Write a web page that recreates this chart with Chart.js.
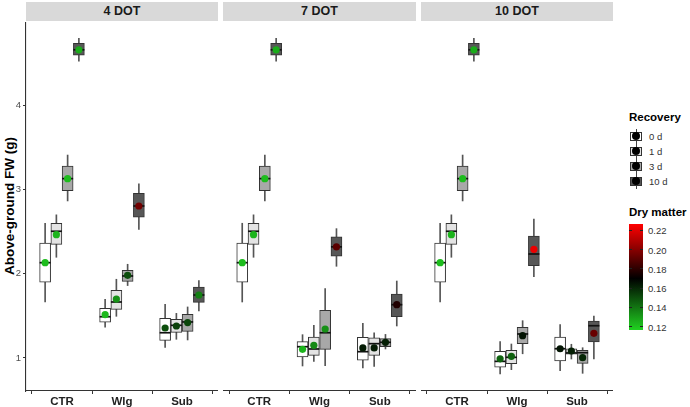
<!DOCTYPE html>
<html><head><meta charset="utf-8">
<script src="https://cdn.jsdelivr.net/npm/chart.js@4/dist/chart.umd.min.js"></script>
<style>
body{margin:0;background:#fff;width:690px;height:407px;position:relative;overflow:hidden;font-family:"Liberation Sans",Arial,sans-serif;}
.strip{position:absolute;top:2px;height:19px;background:#d9d9d9;color:#1a1a1a;font-weight:bold;font-size:12.5px;line-height:19px;text-align:center;}
.cv{position:absolute;}
.ytitle{position:absolute;left:9px;top:206px;transform:translate(-50%,-50%) rotate(-90deg);font-weight:bold;font-size:13.5px;color:#000;white-space:nowrap;}
.ltitle{position:absolute;font-weight:bold;font-size:11.5px;color:#000;white-space:nowrap;}
.lab{position:absolute;font-size:9.5px;color:#333;white-space:nowrap;transform:translateY(-50%);}
.key{position:absolute;width:14px;height:15px;}
.key .wh{position:absolute;left:6.5px;top:0;width:1px;height:15px;background:#444;}
.key .bx{position:absolute;left:1px;top:3px;width:10px;height:7px;border:1px solid #333;}
.key .dt{position:absolute;left:3px;top:3.5px;width:8px;height:8px;border-radius:50%;background:#000;}
.cbar{position:absolute;width:14px;}
.ctick{position:absolute;width:3px;height:1px;background:#222;}
</style>
</head><body>
<div class="strip" style="left:26px;width:192px">4 DOT</div>
<div class="strip" style="left:223px;width:193px">7 DOT</div>
<div class="strip" style="left:421px;width:192px">10 DOT</div>
<div class="ytitle">Above-ground FW (g)</div>
<canvas id="c0" class="cv" width="218" height="385" style="left:0px;top:22px"></canvas>
<canvas id="c1" class="cv" width="193" height="385" style="left:223px;top:22px"></canvas>
<canvas id="c2" class="cv" width="192" height="385" style="left:421px;top:22px"></canvas>
<div id="legend"></div>
<script>
// ---- data (order: CTR 0d,1d,3d,10d | Wlg 0d,1d,3d,10d | Sub 0d,1d,3d,10d) ----
const facets = ['4 DOT', '7 DOT', '10 DOT'];
const treatments = ['CTR', 'Wlg', 'Sub'];
const recovery = ['0 d', '1 d', '3 d', '10 d'];
const recoveryFill = ['#ffffff', '#e3e3e3', '#a8a8a8', '#575757'];

const whiskerLow = [
  [1.665, 2.196, 2.865, 4.524, 1.365, 1.495, 1.860, 2.528, 1.127, 1.222, 1.214, 1.558],
  [1.665, 2.196, 2.865, 4.524, 0.905, 0.960, 0.909, 2.089, 0.881, 0.900, 1.107, 1.380],
  [1.665, 2.196, 2.865, 4.524, 0.810, 0.861, 1.050, 1.966, 0.849, 0.988, 0.818, 0.990]
];
const quart1 = [
  [1.899, 2.350, 2.987, 4.595, 1.424, 1.578, 1.910, 2.671, 1.210, 1.305, 1.317, 1.660],
  [1.899, 2.350, 2.987, 4.595, 1.012, 1.032, 1.103, 2.210, 0.973, 1.032, 1.134, 1.490],
  [1.899, 2.350, 2.987, 4.595, 0.890, 0.932, 1.170, 2.096, 0.964, 1.044, 0.937, 1.190]
];
const median = [
  [2.132, 2.505, 3.130, 4.660, 1.490, 1.665, 1.974, 2.805, 1.300, 1.388, 1.428, 1.748],
  [2.132, 2.505, 3.130, 4.660, 1.134, 1.107, 1.300, 2.320, 1.075, 1.170, 1.186, 1.633],
  [2.132, 2.505, 3.130, 4.660, 0.960, 1.008, 1.285, 2.235, 1.110, 1.060, 1.063, 1.383]
];
const quart3 = [
  [2.366, 2.600, 3.280, 4.737, 1.590, 1.804, 2.040, 2.956, 1.471, 1.460, 1.519, 1.843],
  [2.366, 2.600, 3.280, 4.737, 1.194, 1.249, 1.566, 2.440, 1.246, 1.238, 1.230, 1.760],
  [2.366, 2.600, 3.280, 4.737, 1.080, 1.091, 1.365, 2.449, 1.249, 1.110, 1.091, 1.439]
];
const whiskerHigh = [
  [2.600, 2.700, 3.410, 4.797, 1.697, 1.935, 2.113, 3.067, 1.638, 1.530, 1.606, 1.918],
  [2.600, 2.700, 3.410, 4.797, 1.277, 1.388, 1.823, 2.536, 1.412, 1.300, 1.280, 1.914],
  [2.600, 2.700, 3.410, 4.797, 1.194, 1.166, 1.443, 2.650, 1.396, 1.163, 1.122, 1.499]
];
const meanFW = [
  [2.132, 2.464, 3.130, 4.660, 1.514, 1.700, 1.982, 2.805, 1.356, 1.380, 1.420, 1.748],
  [2.132, 2.464, 3.130, 4.660, 1.103, 1.151, 1.344, 2.320, 1.119, 1.119, 1.186, 1.633],
  [2.132, 2.464, 3.130, 4.660, 0.990, 1.020, 1.265, 2.290, 1.110, 1.083, 1.004, 1.293]
];
const dryMatter = [
  [0.122, 0.124, 0.122, 0.126, 0.123, 0.133, 0.150, 0.195, 0.150, 0.153, 0.152, 0.137],
  [0.122, 0.124, 0.122, 0.126, 0.124, 0.135, 0.133, 0.190, 0.163, 0.163, 0.162, 0.177],
  [0.122, 0.124, 0.122, 0.126, 0.145, 0.145, 0.165, 0.222, 0.165, 0.162, 0.160, 0.193]
];
const yTicks = [1, 2, 3, 4];
const dmTicks = [0.22, 0.20, 0.18, 0.16, 0.14, 0.12];

// ---- colour scale for dry matter (green - black - red) ----
const dmLow = 0.1165, dmMid = 0.17, dmHigh = 0.2265;
const cLow = [34, 221, 34], cMid = [0, 0, 0], cHigh = [255, 0, 0];
function dmColor(v) {
  const span = Math.max(dmMid - dmLow, dmHigh - dmMid);
  let t = (v - dmMid) / span; t = Math.max(-1, Math.min(1, t));
  const end = t < 0 ? cLow : cHigh, a = Math.abs(t);
  const c = cMid.map((m, k) => Math.round(m + (end[k] - m) * a));
  return 'rgb(' + c.join(',') + ')';
}

const dodgeWidth = 0.75;
function xOf(i) { const t = Math.floor(i / 4), r = i % 4; return (t + 1) + (r - 1.5) * dodgeWidth / 4; }

function makeChart(id, f, showY) {
  const idx = whiskerLow[f].map((_, i) => i);
  new Chart(document.getElementById(id), {
    type: 'bar',
    data: {
      datasets: [
        { type: 'bar', order: 4, grouped: false, barThickness: 1,
          data: idx.map(i => ({ x: xOf(i), y: [whiskerLow[f][i], whiskerHigh[f][i]] })),
          backgroundColor: '#555555', borderWidth: 0 },
        { type: 'bar', order: 3, grouped: false, barThickness: 11,
          data: idx.map(i => ({ x: xOf(i), y: [quart1[f][i], quart3[f][i]] })),
          backgroundColor: idx.map(i => recoveryFill[i % 4]),
          borderColor: '#333333', borderWidth: 1, borderSkipped: false },
        { type: 'scatter', order: 2,
          data: idx.map(i => ({ x: xOf(i), y: median[f][i] })),
          pointStyle: 'line', pointRadius: 5.5, borderColor: '#111', borderWidth: 1.7 },
        { type: 'scatter', order: 1,
          data: idx.map(i => ({ x: xOf(i), y: meanFW[f][i] })),
          pointRadius: 3.6, backgroundColor: idx.map(i => dmColor(dryMatter[f][i])), borderWidth: 0 }
      ]
    },
    options: {
      responsive: false, animation: false, devicePixelRatio: 1,
      layout: { padding: 0, autoPadding: false },
      plugins: { legend: { display: false }, tooltip: { enabled: false } },
      scales: {
        x: {
          type: 'linear', min: 0.4, max: 3.6, offset: false,
          grid: { display: true, drawOnChartArea: false, drawTicks: true, tickLength: 3, color: '#333' },
          border: { display: true, color: '#333', width: 1.1 },
          ticks: { font: { family: '"Liberation Sans", Arial, sans-serif', size: 11.5, weight: 'bold' }, color: '#222',
                   padding: 1, maxRotation: 0, autoSkip: false,
                   callback: v => treatments[Math.round(v) - 1] },
          afterBuildTicks: s => { s.ticks = [1, 2, 3].map(v => ({ value: v })); },
          afterFit: s => { s.height = 16; s.paddingLeft = 0; s.paddingRight = 0; }
        },
        y: {
          type: 'linear', min: 0.608, max: 4.99, display: showY,
          grid: { display: true, drawOnChartArea: false, drawTicks: true, tickLength: 3, color: '#333' },
          border: { display: true, color: '#333', width: 1.1 },
          ticks: { font: { family: '"Liberation Sans", Arial, sans-serif', size: 9.5 }, color: '#4d4d4d', padding: 2 },
          afterBuildTicks: s => { s.ticks = yTicks.map(v => ({ value: v })); },
          afterFit: s => { s.width = showY ? 26 : 0; s.paddingTop = 0; s.paddingBottom = 0; }
        }
      }
    }
  });
}
makeChart('c0', 0, true);
makeChart('c1', 1, false);
makeChart('c2', 2, false);

// ---- legends ----
const L = document.getElementById('legend');
const lx = 629;
let html = '<div class="ltitle" style="left:' + lx + 'px;top:111px">Recovery</div>';
const keyY = [136, 151, 166, 181];
recovery.forEach((r, k) => {
  html += '<div class="key" style="left:' + lx + 'px;top:' + (keyY[k] - 7.5) + 'px"><div class="wh"></div>' +
          '<div class="bx" style="background:' + recoveryFill[k] + '"></div><div class="dt"></div></div>';
  html += '<div class="lab" style="left:' + (lx + 20) + 'px;top:' + keyY[k] + 'px">' + r + '</div>';
});
html += '<div class="ltitle" style="left:' + lx + 'px;top:206px">Dry matter</div>';
const cbTop = 224, cbBottom = 330;
const pxPer = (cbBottom - cbTop) / (dmHigh - dmLow);
const midPct = ((dmHigh - dmMid) / (dmHigh - dmLow) * 100).toFixed(1);
html += '<div class="cbar" style="left:' + lx + 'px;top:' + cbTop + 'px;height:' + (cbBottom - cbTop) + 'px;background:linear-gradient(to bottom,' +
        dmColor(dmHigh) + ' 0%, #000 ' + midPct + '%, ' + dmColor(dmLow) + ' 100%)"></div>';
dmTicks.forEach(v => {
  const y = cbTop + (dmHigh - v) * pxPer;
  html += '<div class="ctick" style="left:' + lx + 'px;top:' + (y - 0.5) + 'px"></div>';
  html += '<div class="ctick" style="left:' + (lx + 11) + 'px;top:' + (y - 0.5) + 'px"></div>';
  html += '<div class="lab" style="left:' + (lx + 19) + 'px;top:' + y + 'px">' + v.toFixed(2) + '</div>';
});
L.innerHTML = html;
</script>
</body></html>
